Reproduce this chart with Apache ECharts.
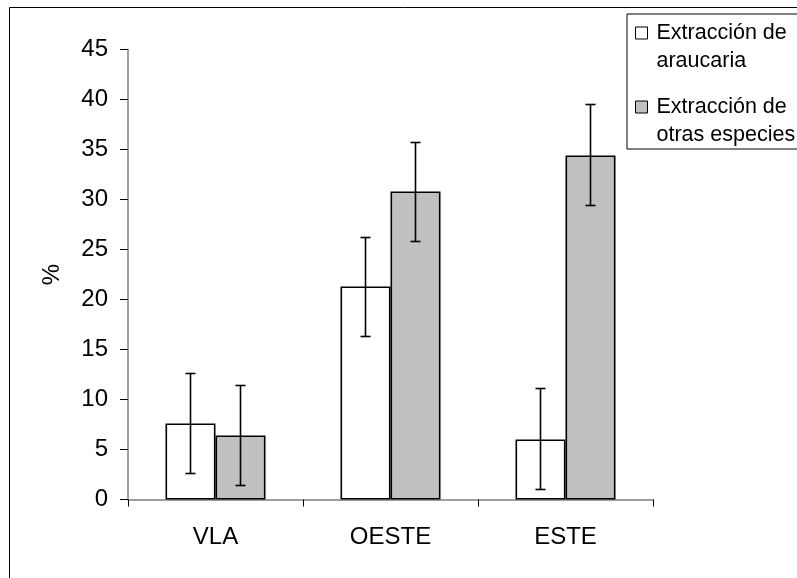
<!DOCTYPE html>
<html>
<head>
<meta charset="utf-8">
<script src="https://cdn.jsdelivr.net/npm/echarts@6/dist/echarts.min.js"></script>
<style>
html,body{margin:0;padding:0;background:#fff;}
#chart{width:797px;height:578px;}
</style>
</head>
<body>
<div id="chart"></div>
<script>
const categories = ['VLA', 'OESTE', 'ESTE'];
const seriesNames = ['Extracción de\naraucaria', 'Extracción de\notras especies'];
const araucaria = [7.6, 21.3, 6.0];
const araucariaLow = [2.6, 16.3, 1.0];
const araucariaHigh = [12.6, 26.2, 11.1];
const otras = [6.4, 30.8, 34.4];
const otrasLow = [1.4, 25.8, 29.4];
const otrasHigh = [11.4, 35.7, 39.5];
const yTicks = [0, 5, 10, 15, 20, 25, 30, 35, 40, 45];

const FONT = 'Liberation Sans, Arial, sans-serif';
const chart = echarts.init(document.getElementById('chart'));

function errorSeries(low, high, side) {
  return {
    type: 'custom',
    silent: true,
    z: 10,
    data: categories.map((c, i) => [i, low[i], high[i]]),
    renderItem: function (params, api) {
      const idx = api.value(0);
      const band = api.size([1, 0])[0];
      const off = side * band * (25 / 175);
      const pLow = api.coord([idx, api.value(1)]);
      const pHigh = api.coord([idx, api.value(2)]);
      const x = pLow[0] + off;
      const cap = 5;
      const st = { stroke: '#000', lineWidth: 1.6, fill: null };
      return {
        type: 'group',
        children: [
          { type: 'line', shape: { x1: x, y1: pLow[1], x2: x, y2: pHigh[1] }, style: st },
          { type: 'line', shape: { x1: x - cap, y1: pLow[1], x2: x + cap, y2: pLow[1] }, style: st },
          { type: 'line', shape: { x1: x - cap, y1: pHigh[1], x2: x + cap, y2: pHigh[1] }, style: st }
        ]
      };
    }
  };
}

const option = {
  animation: false,
  backgroundColor: '#fff',
  textStyle: { fontFamily: FONT },
  graphic: [{
    type: 'rect',
    shape: { x: 9.5, y: 7.5, width: 1000, height: 1000 },
    style: { fill: null, stroke: '#000', lineWidth: 1 },
    z: -10
  }],
  grid: { left: 128, right: 144, top: 49.5, bottom: 78.5 },
  legend: {
    data: seriesNames,
    orient: 'vertical',
    left: 627,
    top: 14,
    padding: [5, 40, 0, 8],
    itemGap: 18,
    itemWidth: 12,
    itemHeight: 40,
    icon: 'path://M0,0L12,0L12,12L0,12Z M0,40L0.01,40',
    itemStyle: { borderColor: '#000', borderWidth: 1 },
    borderColor: '#000',
    borderWidth: 1,
    textStyle: { fontSize: 21.5, lineHeight: 28, color: '#000', fontFamily: FONT, padding: [0, 0, 0, 4] }
  },
  xAxis: {
    type: 'category',
    data: categories,
    axisLine: { lineStyle: { color: '#808080', width: 1.5 } },
    axisTick: { show: true, length: 7, lineStyle: { color: '#000' } },
    axisLabel: { color: '#000', fontSize: 24, margin: 26, fontFamily: FONT }
  },
  yAxis: {
    type: 'value',
    min: 0,
    max: 45,
    interval: 5,
    name: '%',
    nameLocation: 'middle',
    nameGap: 64,
    nameTextStyle: { color: '#000', fontSize: 24, fontFamily: FONT },
    axisLine: { show: true, lineStyle: { color: '#808080', width: 1.5 } },
    axisTick: { show: true, length: 8, lineStyle: { color: '#000' } },
    splitLine: { show: false },
    axisLabel: {
      color: '#000', fontSize: 24, margin: 20, fontFamily: FONT,
      formatter: function (v) { return yTicks.indexOf(v) >= 0 ? String(v) : ''; }
    }
  },
  series: [
    {
      name: seriesNames[0],
      type: 'bar',
      data: araucaria,
      barWidth: 50,
      barGap: '0%',
      itemStyle: { color: '#FFFFFF', borderColor: '#000', borderWidth: 1.6 }
    },
    {
      name: seriesNames[1],
      type: 'bar',
      data: otras,
      barWidth: 50,
      barGap: '0%',
      itemStyle: { color: '#C0C0C0', borderColor: '#000', borderWidth: 1.6 }
    },
    errorSeries(araucariaLow, araucariaHigh, -1),
    errorSeries(otrasLow, otrasHigh, 1)
  ]
};
chart.setOption(option);
</script>
</body>
</html>
